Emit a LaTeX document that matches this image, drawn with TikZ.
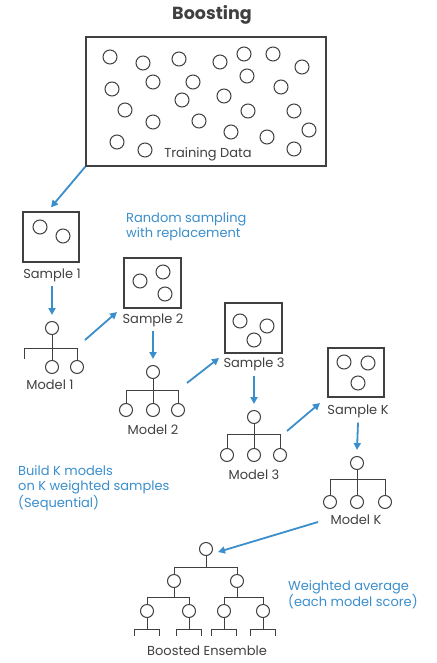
\documentclass[tikz,border=0pt]{standalone}
\usepackage{fontspec}
\setmainfont{Poppins}
\usetikzlibrary{arrows.meta}
\definecolor{bblue}{RGB}{58,142,204}
\definecolor{ink}{RGB}{64,64,64}
\tikzset{
  dot/.style={circle,draw=ink,line width=1pt,minimum size=14pt,inner sep=0pt},
  mdot/.style={circle,draw=ink,line width=1pt,minimum size=13pt,inner sep=0pt},
  box/.style={draw=ink,line width=1.3pt,inner sep=0pt},
  lab/.style={text=ink,font=\fontsize{13}{15}\selectfont,inner sep=0pt},
  note/.style={text=bblue,font=\fontsize{13}{15.5}\selectfont,inner sep=0pt,align=left,anchor=north west},
  arr/.style={draw=bblue,line width=1.8pt,-{Triangle[length=7pt,width=7pt]}},
  tree/.style={draw=ink,line width=1pt},
}
\begin{document}
\begin{tikzpicture}[x=1pt,y=-1pt]
\useasboundingbox (0,0) rectangle (436,663);
% title
\node[text=ink,font=\fontsize{17.5}{20}\selectfont\bfseries,inner sep=0pt] (title) at (212,15) {Boosting};
% training data
\node[box,minimum width=240pt,minimum height=129pt] (td) at (206,101.5) {};
\foreach \x/\y [count=\i] in {110/57,143/63,179/59,220/62,244/54,273/54,302/67,112/89,153/82,193/82,247/76,281/87,182/100,224/96,125/110,248/111,294/111,153/122,199/121,231/132,267/137,309/130,117/142,145/150,294/149}
  \node[dot] (t\i) at (\x,\y) {};
\node[lab] (tdlab) at (208,154) {Training Data};
% sample 1
\node[box,minimum width=56pt,minimum height=50pt] (s1) at (51,237) {};
\node[dot] (s1a) at (40,227) {};
\node[dot] (s1b) at (63,236) {};
\node[lab] (s1lab) at (52,275) {Sample 1};
% sample 2
\node[box,minimum width=57pt,minimum height=50pt] (s2) at (152.5,283) {};
\node[dot] (s2a) at (140,281) {};
\node[dot] (s2b) at (163,272) {};
\node[dot] (s2c) at (165,294) {};
\node[lab] (s2lab) at (153,320) {Sample 2};
% sample 3
\node[box,minimum width=57pt,minimum height=50pt] (s3) at (253.5,328) {};
\node[dot] (s3a) at (240,321) {};
\node[dot] (s3b) at (267,326) {};
\node[dot] (s3c) at (254,340) {};
\node[lab] (s3lab) at (254,364) {Sample 3};
% sample K
\node[box,minimum width=56pt,minimum height=49pt] (sk) at (356,372.5) {};
\node[dot] (ska) at (344,362) {};
\node[dot] (skb) at (368,363) {};
\node[dot] (skc) at (358,383) {};
\node[lab] (sklab) at (358,411) {Sample K};
% model 1
\node[mdot] (m1) at (52,328) {};
\node[mdot] (m1b) at (52,367) {};
\node[mdot] (m1c) at (77,367) {};
\draw[tree] (m1.south) -- (52,348) (24,359) -- (24,348) -- (77,348) -- (m1c.north) (52,348) -- (m1b.north);
\node[lab] (m1lab) at (50,385) {Model 1};
% model 2
\node[mdot] (m2) at (153,372) {};
\node[mdot] (m2a) at (126,410) {};
\node[mdot] (m2b) at (153,410) {};
\node[mdot] (m2c) at (178,410) {};
\draw[tree] (m2.south) -- (153,390) (m2a.north) -- (126,390) -- (178,390) -- (m2c.north) (153,390) -- (m2b.north);
\node[lab] (m2lab) at (153,430) {Model 2};
% model 3
\node[mdot] (m3) at (254,417) {};
\node[mdot] (m3a) at (227,455) {};
\node[mdot] (m3b) at (254,455) {};
\node[mdot] (m3c) at (280,455) {};
\draw[tree] (m3.south) -- (254,434) (m3a.north) -- (227,434) -- (280,434) -- (m3c.north) (254,434) -- (m3b.north);
\node[lab] (m3lab) at (254,475) {Model 3};
% model K
\node[mdot] (mk) at (357,463) {};
\node[mdot] (mka) at (330,502) {};
\node[mdot] (mkb) at (357,502) {};
\node[mdot] (mkc) at (385,502) {};
\draw[tree] (mk.south) -- (357,479) (mka.north) -- (330,479) -- (385,479) -- (mkc.north) (357,479) -- (mkb.north);
\node[lab] (mklab) at (356,520) {Model K};
% ensemble
\node[mdot] (e0) at (206,549) {};
\node[mdot] (e1) at (174,581) {};
\node[mdot] (e2) at (237,581) {};
\foreach \x [count=\i] in {147,189,224,263} \node[mdot] (f\i) at (\x,611) {};
\draw[tree] (e0.south) -- (206,567) (e1.north) -- (174,567) -- (237,567) -- (e2.north);
\draw[tree] (e1.south) -- (174,597) (f1.north) -- (147,597) -- (189,597) -- (f2.north);
\draw[tree] (e2.south) -- (237,597) (f3.north) -- (224,597) -- (263,597) -- (f4.north);
\foreach \i in {1,...,4}
  \draw[tree] (f\i.south) -- ++(0,11) ++(-12.5,7) -- ++(0,-7) -- ++(25,0) -- ++(0,7);
\node[lab] (elab) at (207,651) {Boosted Ensemble};
% notes
\node[note] (n1) at (126,212) {Random sampling\\with replacement};
\node[note] (n2) at (18,465) {Build K models\\on K weighted samples\\(Sequential)};
\node[note] (n3) at (288,580) {Weighted average\\(each model score)};
% arrows
\coordinate (a1s) at (85,340); \coordinate (a1e) at (117,312);
\coordinate (a2s) at (187,383); \coordinate (a2e) at (219,358);
\coordinate (a3s) at (287,431); \coordinate (a3e) at (320,403);
\coordinate (a4s) at (318,522);
\draw[arr] (td.south west) -- ([yshift=4pt]s1.north);
\draw[arr] ([yshift=-4pt]s1lab.south) -- ([yshift=6pt]m1.north);
\draw[arr] (a1s) -- (a1e);
\draw[arr] ([yshift=-4pt]s2lab.south) -- ([yshift=6pt]m2.north);
\draw[arr] (a2s) -- (a2e);
\draw[arr] ([yshift=-5pt]s3lab.south) -- ([yshift=6pt]m3.north);
\draw[arr] (a3s) -- (a3e);
\draw[arr] ([yshift=-5pt]sklab.south) -- ([yshift=6pt]mk.north);
\draw[arr] (a4s) -- ([xshift=5pt,yshift=-3pt]e0.east);
\end{tikzpicture}
\end{document}
